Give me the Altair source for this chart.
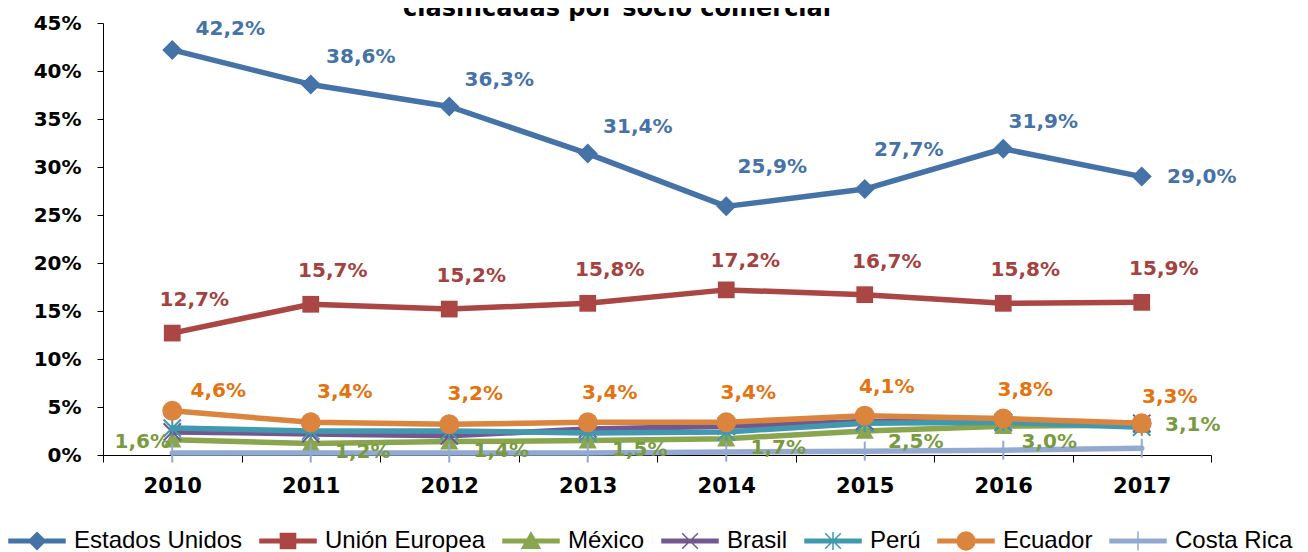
import altair as alt
import pandas as pd

# ---------------- data ----------------
years = ["2010", "2011", "2012", "2013", "2014", "2015", "2016", "2017"]
series = ["Estados Unidos", "Unión Europea", "México", "Brasil", "Perú", "Ecuador", "Costa Rica"]
estados_unidos = [42.2, 38.6, 36.3, 31.4, 25.9, 27.7, 31.9, 29.0]
union_europea = [12.7, 15.7, 15.2, 15.8, 17.2, 16.7, 15.8, 15.9]
mexico = [1.6, 1.2, 1.4, 1.5, 1.7, 2.5, 3.0, 3.1]
brasil = [2.4, 2.2, 2.0, 2.7, 3.0, 3.5, 3.4, 3.3]
peru = [2.8, 2.5, 2.5, 2.3, 2.4, 3.3, 3.4, 2.9]
ecuador = [4.6, 3.4, 3.2, 3.4, 3.4, 4.1, 3.8, 3.3]
costa_rica = [0.2, 0.2, 0.2, 0.2, 0.3, 0.4, 0.5, 0.7]
labelled_series = ["Estados Unidos", "Unión Europea", "México", "Ecuador"]
y_ticks = [0, 5, 10, 15, 20, 25, 30, 35, 40, 45]
title_text = ["clasificadas por socio comercial"]

values = [estados_unidos, union_europea, mexico, brasil, peru, ecuador, costa_rica]
rows = []
for s, vals in zip(series, values):
    for yr, v in zip(years, vals):
        rows.append({"serie": s, "anio": yr, "v": v})
df = pd.DataFrame(rows)

# ---------------- styles ----------------
colors = ["#4572A7", "#AA4643", "#89A54E", "#71588F", "#4198AF", "#DB843D", "#93A9CF"]
color_of = dict(zip(series, colors))
label_color = {"Estados Unidos": "#4572A7", "Unión Europea": "#A5413E",
               "México": "#7A9A40", "Ecuador": "#E4720F"}
markers = {
    "Estados Unidos": dict(shape="diamond", size=400, filled=True),
    "Unión Europea": dict(shape="square", size=280, filled=True),
    "México": dict(shape="triangle-up", size=330, filled=True),
    "Brasil": dict(shape="M-1,-1L1,1M-1,1L1,-1", size=300, filled=False, strokeWidth=2),
    "Perú": dict(shape="M-1,-1L1,1M-1,1L1,-1M0,-1L0,1", size=300, filled=False, strokeWidth=2),
    "Ecuador": dict(shape="circle", size=400, filled=True),
    "Costa Rica": dict(shape="M0,-1L0,1", size=360, filled=False, strokeWidth=2),
}
LINE = "M-1,-0.06L1,-0.06L1,0.06L-1,0.06Z "
legend_paths = [
    LINE + "M0,-0.3L0.3,0L0,0.3L-0.3,0Z",
    LINE + "M-0.27,-0.27L0.27,-0.27L0.27,0.27L-0.27,0.27Z",
    LINE + "M0,-0.3L0.32,0.26L-0.32,0.26Z",
    LINE + "M-0.28,-0.28L0.28,0.28M-0.28,0.28L0.28,-0.28",
    LINE + "M-0.28,-0.28L0.28,0.28M-0.28,0.28L0.28,-0.28M0,-0.32L0,0.32",
    LINE + "M-0.32,0A0.32,0.32,0,1,1,0.32,0A0.32,0.32,0,1,1,-0.32,0Z",
    LINE + "M0,-0.34L0,0.34",
]

label_offsets = {
    "Estados Unidos": {"default": (50, -27), "2010": (58, -21), "2014": (46, -39),
                       "2015": (44, -39), "2016": (40, -27), "2017": (60, 0)},
    "Unión Europea": {"default": (22, -33), "2014": (19, -29)},
    "México": {"default": (52, 9), "2010": (-30, 2), "2015": (51, 11),
               "2016": (46, 16), "2017": (51, 0)},
    "Ecuador": {"default": (22, -29), "2010": (46, -20), "2011": (34, -30),
                "2012": (26, -30), "2017": (28, -26)},
}

FONT_B = "DejaVu Sans"


def make_legend():
    return alt.Legend(
        title=None, orient="none", legendX=-95, legendY=489, direction="horizontal",
        columns=7, gridAlign="none", labelFont="Liberation Sans", labelFontSize=24,
        labelColor="#000000", symbolSize=3136, labelOffset=8, columnPadding=14,
        padding=0, labelLimit=400, symbolOpacity=1, symbolStrokeWidth=1.5,
    )


x_enc = alt.X(
    "anio:O", sort=years,
    scale=alt.Scale(type="band", paddingInner=0, paddingOuter=0),
    axis=alt.Axis(title=None, labelAngle=0, labelFont=FONT_B, labelFontWeight="bold",
                  labelFontSize=21, labelColor="#000000", domainColor="#000000",
                  tickColor="#000000", tickSize=7, labelPadding=13, tickBand="extent",
                  grid=False),
)
y_enc = alt.Y(
    "v:Q", scale=alt.Scale(domain=[0, 45], nice=False),
    axis=alt.Axis(title=None, values=y_ticks, labelExpr="datum.value + '%'",
                  labelFont=FONT_B, labelFontWeight="bold", labelFontSize=20,
                  labelColor="#000000", domainColor="#000000", tickColor="#000000",
                  tickSize=6, labelPadding=16, grid=False),
)

base = alt.Chart(df)
layers = []
for s in series:
    sub = base.transform_filter(alt.datum.serie == s)
    layers.append(
        sub.mark_line(strokeWidth=5.5, strokeJoin="round", strokeCap="round",
                      color=color_of[s]).encode(x=x_enc, y=y_enc)
    )
    m = markers[s]
    kw = dict(shape=m["shape"], size=m["size"], filled=m["filled"], opacity=1,
              color=color_of[s])
    if not m["filled"]:
        kw["strokeWidth"] = m["strokeWidth"]
    layers.append(sub.mark_point(**kw).encode(x=x_enc, y=y_enc))

for s in labelled_series:
    offs = label_offsets[s]
    groups = {}
    for yr in years:
        groups.setdefault(offs.get(yr, offs["default"]), []).append(yr)
    for (dx, dy), yrs in groups.items():
        layers.append(
            base.transform_filter(alt.datum.serie == s)
            .transform_filter(alt.FieldOneOfPredicate(field="anio", oneOf=yrs))
            .transform_calculate(lab="replace(format(datum.v, '.1f'), '.', ',') + '%'")
            .mark_text(font=FONT_B, fontWeight="bold", fontSize=20, color=label_color[s],
                       dx=dx, dy=dy, align="center", baseline="middle")
            .encode(x=x_enc, y=y_enc, text="lab:N")
        )

# legend-only layer (invisible marks)
legend_layer = alt.Chart(pd.DataFrame({"serie": series})).mark_point(
    filled=True, opacity=0, strokeWidth=1.5
).encode(
    x=alt.value(0), y=alt.value(0),
    fill=alt.Fill("serie:N", scale=alt.Scale(domain=series, range=colors), legend=make_legend()),
    stroke=alt.Stroke("serie:N", scale=alt.Scale(domain=series, range=colors), legend=make_legend()),
    shape=alt.Shape("serie:N", scale=alt.Scale(domain=series, range=legend_paths), legend=make_legend()),
)
layers.append(legend_layer)

title_layer = alt.Chart(pd.DataFrame({"t": title_text})).mark_text(
    font=FONT_B, fontWeight="bold", fontSize=24, color="#000000",
    align="center", baseline="alphabetic",
).encode(x=alt.value(514), y=alt.value(-7), text="t:N")
layers.append(title_layer)

chart = alt.layer(*layers).properties(
    width=1108, height=432,
    autosize=alt.AutoSizeParams(type="none"),
    padding={"left": 95, "top": 15, "right": 89, "bottom": 97},
).configure_view(stroke=None)

chart.save("out.html", embed_options={"renderer": "svg", "actions": False})
